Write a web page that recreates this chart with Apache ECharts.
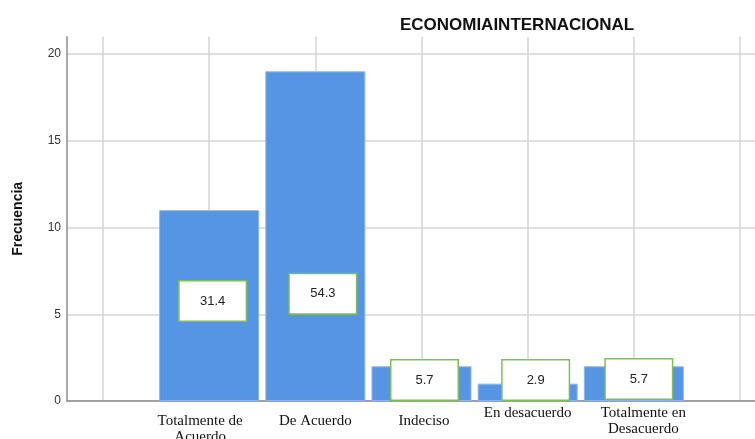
<!DOCTYPE html>
<html>
<head>
<meta charset="utf-8">
<script src="https://cdn.jsdelivr.net/npm/echarts@6/dist/echarts.min.js"></script>
<style>
html,body{margin:0;padding:0;background:#fff;}
#chart{width:755px;height:439px;}
</style>
</head>
<body>
<div id="chart"></div>
<script>
// ---- data ----
const titleText = 'ECONOMIAINTERNACIONAL';
const yAxisName = 'Frecuencia';
const categories = ['Totalmente de\nAcuerdo', 'De Acuerdo', 'Indeciso', 'En desacuerdo', 'Totalmente en\nDesacuerdo'];
const frequencies = [11, 19, 2, 1, 2];
const percentages = [31.4, 54.3, 5.7, 2.9, 5.7];
const yTicks = [0, 5, 10, 15, 20];

// ---- layout (not data) ----
const labelOffsets = [[3.5, -4.5], [7.5, 57.5], [3, -3.6], [8, -12.3], [5, -4.6]];
const catLabelPads = [[8, 18, 0, 0], [8, 0, 0, 0], [8, 0, 0, 5], [0, 0, 0, 0], [0, 0, 0, 19]];

const axisCats = [''].concat(categories, ['']);
const barData = ['-'].concat(frequencies.map((v, i) => ({
  value: v,
  label: { offset: labelOffsets[i], formatter: () => percentages[i].toFixed(1) }
})), ['-']);

const catData = axisCats.map((c, i) => {
  if (i === 0 || i === axisCats.length - 1) return c;
  const p = catLabelPads[i - 1];
  return { value: c, textStyle: { padding: p } };
});

const TOP = 36.65, BOTTOM = 38, YMAX = 21;
const chart = echarts.init(document.getElementById('chart'), null, { renderer: 'canvas' });
chart.setOption({
  animation: false,
  backgroundColor: '#ffffff',
  title: {
    text: titleText,
    left: 512, top: 12, textAlign: 'center',
    textStyle: { fontFamily: 'Liberation Sans', fontWeight: 'bold', fontSize: 17, color: '#111' }
  },
  grid: [
    { left: 67, right: 0, top: TOP, bottom: BOTTOM, containLabel: false, outerBoundsMode: 'none' },
    { left: 103, right: 15, top: TOP, bottom: BOTTOM, containLabel: false, outerBoundsMode: 'none' }
  ],
  xAxis: [
    {
      type: 'value', gridIndex: 0, min: 0, max: 1,
      axisLine: { show: true, lineStyle: { color: '#8c8c8c', width: 1.5 } },
      axisTick: { show: false }, axisLabel: { show: false }, splitLine: { show: false }
    },
    {
      type: 'category', gridIndex: 1, data: catData, boundaryGap: false,
      axisLine: { show: false }, axisTick: { show: false },
      splitLine: { show: true, lineStyle: { color: '#d4d4d4', width: 1.5 } },
      axisLabel: {
        interval: 0, margin: 4, hideOverlap: false,
        fontFamily: 'Liberation Serif', fontSize: 15, lineHeight: 16, color: '#111'
      }
    }
  ],
  yAxis: [
    {
      type: 'value', gridIndex: 0, min: 0, max: YMAX, interval: 5,
      name: yAxisName, nameLocation: 'middle', nameGap: 42,
      nameTextStyle: { fontFamily: 'Liberation Sans', fontWeight: 'bold', fontSize: 14, color: '#111' },
      axisLine: { show: true, lineStyle: { color: '#8c8c8c', width: 1.5 } },
      axisTick: { show: false },
      axisLabel: {
        margin: 6, fontFamily: 'Liberation Sans', fontSize: 12, color: '#333',
        showMaxLabel: false,
        formatter: v => (yTicks.indexOf(v) >= 0 ? String(v) : '')
      },
      splitLine: { show: true, showMaxLine: false, lineStyle: { color: '#d4d4d4', width: 1.5 } }
    },
    {
      type: 'value', gridIndex: 1, min: 0, max: YMAX, interval: 5,
      show: false, splitLine: { show: false }
    }
  ],
  series: [
    {
      type: 'bar', xAxisIndex: 1, yAxisIndex: 1,
      data: barData, barWidth: 100,
      itemStyle: { color: '#5595e3', borderColor: '#8ab6ec', borderWidth: 1 },
      label: {
        show: true, position: 'inside',
        width: 66, height: 33, align: 'center', verticalAlign: 'middle',
        lineHeight: 26, padding: [0, 0, 6, 0],
        backgroundColor: '#ffffff', borderColor: '#7dbf5a', borderWidth: 1.5,
        fontFamily: 'Liberation Sans', fontSize: 13, color: '#222'
      },
      z: 3
    }
  ]
});
</script>
</body>
</html>
